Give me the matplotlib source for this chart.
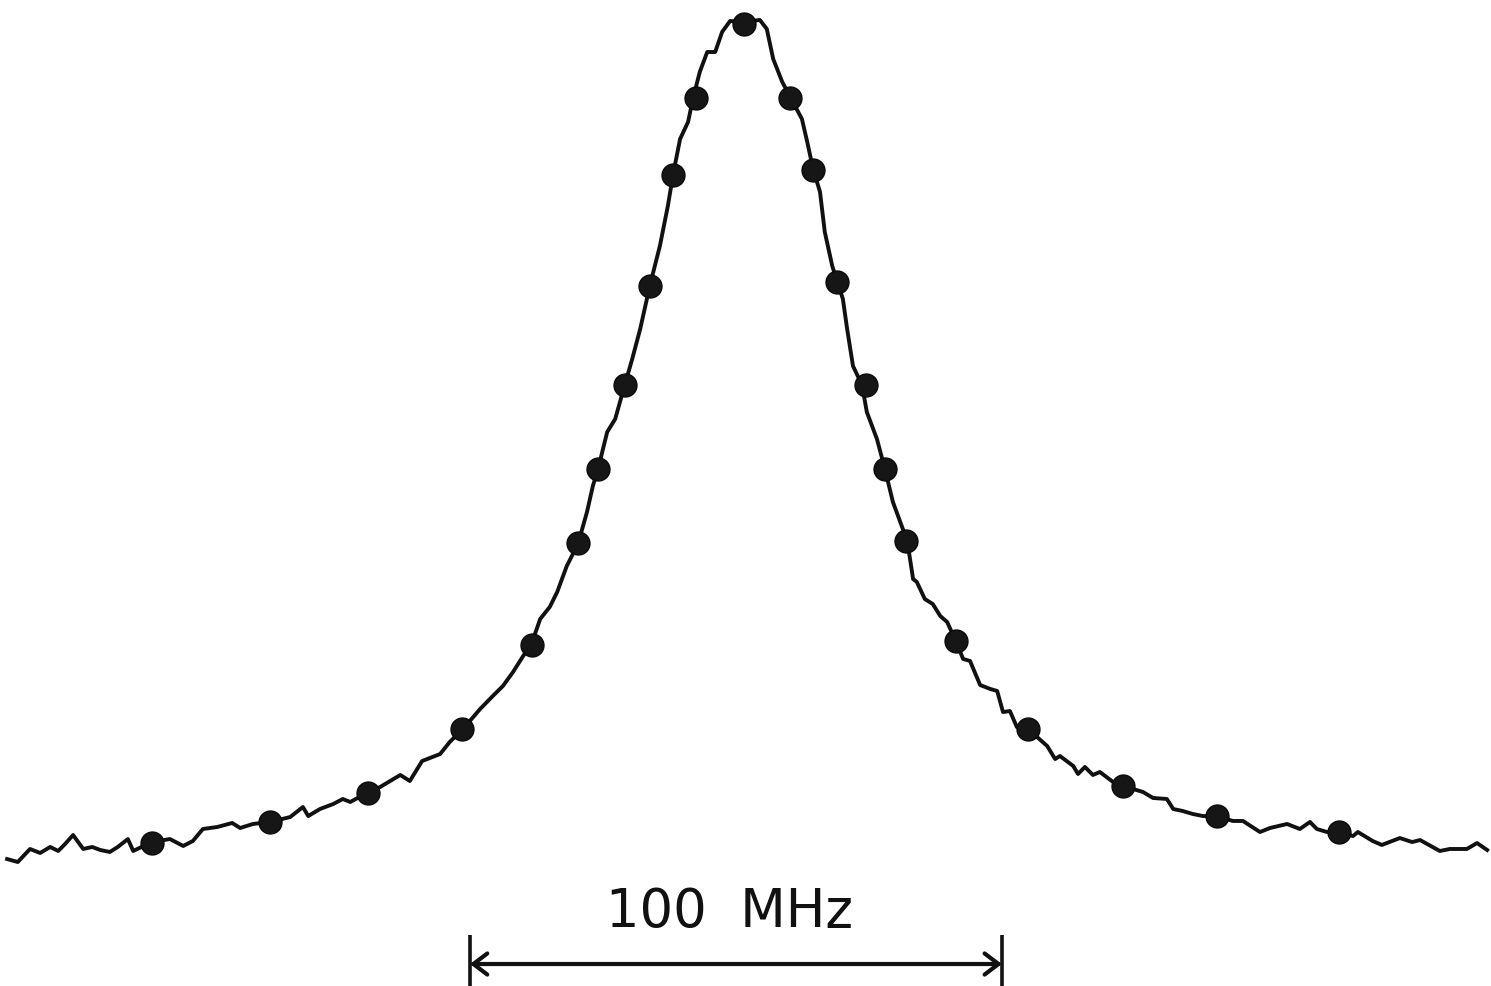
import matplotlib.pyplot as plt
from matplotlib.patches import FancyArrowPatch

# measured trace: detuning (MHz) and signal (% of peak)
freq = [
    -138.7, -136.7, -134.4, -132.5, -130.6, -129.1, -127.8, -126.3, -124.4, -122.7,
    -121.2, -119.4, -117.9, -116.0, -115.0, -111.5, -108.1, -105.6, -103.8, -101.9,
    -99.2, -96.4, -94.9, -92.5, -89.3, -85.5, -83.1, -82.1, -79.9, -77.4,
    -75.6, -74.2, -71.1, -68.6, -64.8, -63.0, -60.7, -57.3, -55.5, -53.0,
    -49.8, -47.4, -45.5, -43.6, -41.7, -40.2, -38.5, -36.7, -35.3, -33.5,
    -31.4, -29.7, -28.6, -27.6, -26.7, -25.9, -24.4, -22.6, -21.2, -19.7,
    -17.9, -16.0, -14.5, -13.5, -12.2, -10.7, -9.8, -8.5, -7.1, -5.6,
    -4.3, -2.8, -0.4, 2.8, 4.1, 5.3, 7.0, 8.5, 10.7, 11.7,
    12.8, 14.1, 15.0, 16.4, 17.3, 18.4, 19.2, 20.3, 22.0, 22.9,
    24.8, 26.3, 27.8, 30.5, 31.6, 32.3, 33.8, 35.3, 36.7, 38.0,
    39.7, 41.0, 42.3, 44.2, 46.1, 47.4, 48.5, 49.8, 51.1, 53.2,
    56.8, 58.3, 59.2, 61.7, 62.6, 63.9, 65.4, 66.7, 69.2, 71.1,
    74.8, 76.7, 79.3, 80.5, 82.3, 84.2, 86.1, 88.7, 91.7, 93.6,
    96.8, 98.7, 101.9, 104.3, 106.2, 107.5, 109.4, 111.5, 114.3, 115.2,
    118.0, 119.7, 123.1, 125.4, 126.9, 130.6, 132.5, 135.7, 137.6, 139.5,
]
signal = [
    -0.24, -0.60, 0.96, 0.48, 1.20, 0.72, 1.56, 2.63, 0.96, 1.20,
    0.84, 0.60, 1.20, 2.15, 0.72, 1.79, 2.15, 1.32, 1.91, 3.35,
    3.59, 4.07, 3.47, 3.95, 4.19, 4.78, 5.98, 4.90, 5.74, 6.34,
    6.94, 6.58, 7.66, 8.37, 9.81, 9.09, 11.48, 12.32, 13.76, 15.31,
    17.70, 19.26, 20.46, 22.13, 24.04, 25.36, 28.47, 29.91, 31.70, 34.81,
    37.44, 41.27, 44.38, 46.41, 48.80, 50.84, 52.39, 56.46, 59.57, 63.16,
    68.30, 73.09, 77.87, 81.70, 85.89, 87.92, 90.67, 93.90, 96.29, 96.29,
    98.69, 100.0, 99.88, 100.12, 99.04, 95.46, 92.71, 90.91, 88.28, 85.53,
    82.30, 79.55, 74.76, 70.70, 68.90, 66.75, 63.16, 58.73, 56.46, 53.23,
    50.00, 46.41, 42.47, 37.80, 33.25, 32.90, 30.86, 30.26, 28.83, 28.11,
    25.72, 23.69, 23.45, 20.57, 20.10, 19.86, 17.34, 17.46, 15.55, 15.31,
    13.28, 11.72, 12.08, 10.89, 9.93, 10.77, 9.81, 10.17, 8.97, 8.49,
    7.78, 7.06, 6.94, 5.74, 5.50, 5.14, 4.90, 4.90, 4.31, 4.31,
    2.99, 3.47, 3.95, 3.35, 4.19, 3.35, 2.99, 2.99, 2.51, 2.99,
    1.91, 1.44, 2.27, 1.79, 2.03, 0.72, 0.96, 0.96, 1.67, 0.84,
]

# fitted points (dots)
fit_freq = [
    -111.5, -89.3, -70.9, -53.2, -40.0, -31.4, -27.6, -22.6, -17.9, -13.5, -9.2, -0.2,
    8.5, 12.8, 17.3, 22.7, 26.3, 30.3, 39.7, 53.2, 71.1, 88.7, 111.7,
]
fit_signal = [
    1.67, 4.19, 7.66, 15.31, 25.36, 37.56, 46.41, 56.46, 68.30, 81.58, 90.79, 99.64,
    90.79, 82.18, 68.78, 56.46, 46.41, 37.80, 25.84, 15.31, 8.49, 4.90, 2.99,
]

bar_start = -51.7
bar_len = 100
bar_label = "100  MHz"

fig = plt.figure(figsize=(14.91, 9.87), dpi=100)
ax = fig.add_axes([0, 0, 1, 1])
ax.set_xlim(-140.04, 140.23)
ax.set_ylim(-15.43, 102.63)
ax.axis("off")

ax.plot(freq, signal, color="#111111", lw=2.8, solid_joinstyle="round", zorder=2)
ax.plot(fit_freq, fit_signal, "o", color="#161616", ms=16.5, mec="#0a0a0a", zorder=3)

# scale bar
bar_end = bar_start + bar_len
ax.vlines([bar_start, bar_end], -15.4, -9.3, color="#111111", lw=2.6)
arrow = FancyArrowPatch(
    (bar_start, -12.8), (bar_end, -12.8),
    arrowstyle="<->,head_length=0.5,head_width=0.38",
    mutation_scale=20, lw=3.0, color="#111111", shrinkA=0, shrinkB=0,
)
ax.add_patch(arrow)
ax.text(bar_start + bar_len / 2 - 1.2, -6.4, bar_label, ha="center", va="center",
        fontsize=38, color="#111111")

fig.savefig("out.png", dpi=100)
